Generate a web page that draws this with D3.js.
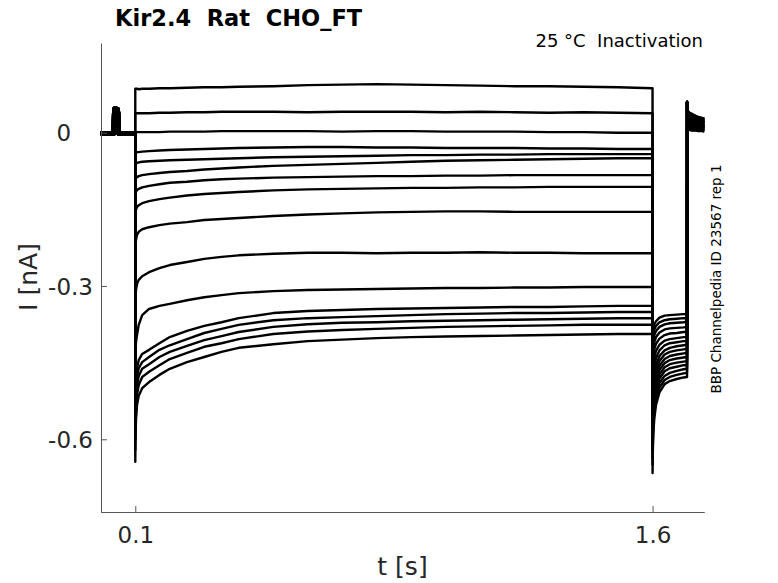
<!DOCTYPE html>
<html><head><meta charset="utf-8">
<script src="https://cdn.jsdelivr.net/npm/d3@7"></script>
<style>
body{margin:0;background:#fff}
svg{display:block}
text{font-family:"DejaVu Sans",sans-serif;white-space:pre}
</style>
</head><body>
<svg id="chart" width="778" height="583"></svg>
<script>
// ---- data (t in s, I in nA) ----
const xTicks = [0.1, 1.6];
const xTickLabels = ["0.1", "1.6"];
const yTicks = [-0.6, -0.3, 0];
const yTickLabels = ["-0.6", "-0.3", "0"];

const preTimes = [0, 0.038, 0.039, 0.0405, 0.048, 0.0495, 0.051, 0.0999];
const preCurrents = [-0.001, -0.001, 0.040, 0.047, 0.046, 0.040, -0.001, -0.001];

const stepTimes = [0.1, 0.1005, 0.102, 0.105, 0.11, 0.12, 0.14, 0.17, 0.2, 0.25, 0.3, 0.35, 0.4, 0.5, 0.6, 0.7, 0.8, 0.9, 1.0, 1.1, 1.2, 1.3, 1.4, 1.5, 1.5999];
const stepCurrents = [
  [0.086,0.086,0.086,0.086,0.085,0.086,0.086,0.087,0.087,0.088,0.089,0.089,0.090,0.091,0.093,0.094,0.095,0.094,0.093,0.092,0.091,0.091,0.090,0.089,0.087],
  [0.038,0.038,0.038,0.038,0.038,0.038,0.038,0.039,0.039,0.040,0.040,0.041,0.041,0.041,0.040,0.041,0.041,0.041,0.040,0.041,0.040,0.039,0.040,0.039,0.038],
  [0.000,0.000,0.000,0.001,0.001,0.001,0.001,0.001,0.002,0.002,0.002,0.003,0.003,0.003,0.003,0.002,0.003,0.003,0.002,0.002,0.002,0.001,0.001,0.000,0.000],
  [-0.040,-0.040,-0.039,-0.038,-0.038,-0.037,-0.036,-0.035,-0.034,-0.033,-0.032,-0.031,-0.030,-0.029,-0.028,-0.028,-0.029,-0.029,-0.030,-0.030,-0.030,-0.031,-0.031,-0.032,-0.032],
  [-0.063,-0.063,-0.061,-0.059,-0.058,-0.057,-0.056,-0.055,-0.054,-0.053,-0.052,-0.051,-0.050,-0.048,-0.047,-0.046,-0.045,-0.044,-0.044,-0.043,-0.043,-0.042,-0.042,-0.042,-0.042],
  [-0.093,-0.091,-0.089,-0.087,-0.085,-0.083,-0.081,-0.079,-0.077,-0.075,-0.072,-0.070,-0.068,-0.065,-0.063,-0.061,-0.059,-0.057,-0.055,-0.054,-0.053,-0.052,-0.051,-0.050,-0.050],
  [-0.122,-0.120,-0.116,-0.112,-0.110,-0.107,-0.104,-0.101,-0.098,-0.096,-0.093,-0.091,-0.090,-0.088,-0.087,-0.086,-0.085,-0.085,-0.084,-0.084,-0.083,-0.083,-0.083,-0.083,-0.083],
  [-0.161,-0.157,-0.151,-0.145,-0.142,-0.138,-0.134,-0.130,-0.127,-0.123,-0.120,-0.118,-0.116,-0.113,-0.111,-0.110,-0.109,-0.108,-0.108,-0.107,-0.107,-0.106,-0.106,-0.106,-0.106],
  [-0.239,-0.226,-0.210,-0.200,-0.194,-0.189,-0.185,-0.181,-0.178,-0.175,-0.171,-0.169,-0.167,-0.163,-0.160,-0.158,-0.156,-0.155,-0.154,-0.154,-0.155,-0.155,-0.155,-0.155,-0.155],
  [-0.347,-0.328,-0.308,-0.296,-0.288,-0.281,-0.273,-0.265,-0.259,-0.253,-0.247,-0.243,-0.240,-0.237,-0.235,-0.235,-0.236,-0.235,-0.235,-0.234,-0.235,-0.235,-0.236,-0.236,-0.236],
  [-0.464,-0.435,-0.410,-0.396,-0.376,-0.357,-0.345,-0.339,-0.335,-0.328,-0.322,-0.318,-0.314,-0.310,-0.308,-0.307,-0.306,-0.305,-0.304,-0.304,-0.303,-0.303,-0.302,-0.302,-0.302],
  [-0.562,-0.523,-0.484,-0.461,-0.445,-0.433,-0.425,-0.412,-0.400,-0.388,-0.378,-0.371,-0.363,-0.353,-0.349,-0.347,-0.345,-0.344,-0.343,-0.342,-0.341,-0.341,-0.340,-0.339,-0.339],
  [-0.582,-0.543,-0.504,-0.476,-0.461,-0.449,-0.439,-0.425,-0.416,-0.404,-0.392,-0.384,-0.376,-0.367,-0.363,-0.361,-0.359,-0.357,-0.355,-0.354,-0.353,-0.353,-0.352,-0.351,-0.351],
  [-0.601,-0.562,-0.523,-0.496,-0.476,-0.462,-0.453,-0.439,-0.429,-0.417,-0.406,-0.398,-0.390,-0.380,-0.375,-0.372,-0.371,-0.369,-0.368,-0.367,-0.366,-0.365,-0.364,-0.363,-0.363],
  [-0.621,-0.582,-0.543,-0.513,-0.494,-0.478,-0.468,-0.455,-0.443,-0.431,-0.419,-0.412,-0.404,-0.394,-0.389,-0.386,-0.384,-0.382,-0.380,-0.379,-0.378,-0.377,-0.376,-0.376,-0.376],
  [-0.644,-0.601,-0.562,-0.533,-0.515,-0.500,-0.488,-0.474,-0.462,-0.449,-0.439,-0.429,-0.421,-0.414,-0.408,-0.405,-0.402,-0.400,-0.399,-0.398,-0.397,-0.396,-0.395,-0.394,-0.394]
];

const tailTimes = [1.6, 1.6005, 1.602, 1.605, 1.61, 1.62, 1.635, 1.65, 1.67, 1.69, 1.6999];
const tailCurrents = [
  [-0.666,-0.630,-0.591,-0.559,-0.533,-0.508,-0.492,-0.486,-0.482,-0.479,-0.478],
  [-0.650,-0.616,-0.578,-0.548,-0.523,-0.499,-0.484,-0.478,-0.474,-0.471,-0.470],
  [-0.637,-0.604,-0.567,-0.537,-0.513,-0.490,-0.476,-0.470,-0.466,-0.463,-0.462],
  [-0.621,-0.589,-0.554,-0.526,-0.503,-0.481,-0.467,-0.461,-0.458,-0.455,-0.455],
  [-0.609,-0.578,-0.544,-0.517,-0.494,-0.473,-0.459,-0.453,-0.450,-0.448,-0.447],
  [-0.598,-0.567,-0.534,-0.507,-0.485,-0.464,-0.451,-0.445,-0.442,-0.440,-0.439],
  [-0.586,-0.556,-0.524,-0.498,-0.476,-0.456,-0.443,-0.437,-0.434,-0.432,-0.431],
  [-0.572,-0.544,-0.513,-0.487,-0.466,-0.447,-0.434,-0.429,-0.426,-0.424,-0.423],
  [-0.552,-0.526,-0.498,-0.474,-0.455,-0.437,-0.426,-0.421,-0.418,-0.416,-0.415],
  [-0.523,-0.501,-0.477,-0.457,-0.441,-0.426,-0.416,-0.412,-0.410,-0.408,-0.408],
  [-0.494,-0.476,-0.456,-0.440,-0.427,-0.415,-0.407,-0.404,-0.402,-0.400,-0.400],
  [-0.468,-0.453,-0.437,-0.424,-0.413,-0.403,-0.396,-0.393,-0.392,-0.390,-0.390],
  [-0.449,-0.436,-0.421,-0.410,-0.400,-0.391,-0.385,-0.383,-0.382,-0.381,-0.380],
  [-0.429,-0.418,-0.406,-0.396,-0.388,-0.380,-0.375,-0.373,-0.372,-0.371,-0.370],
  [-0.415,-0.406,-0.394,-0.385,-0.378,-0.371,-0.367,-0.365,-0.364,-0.363,-0.363],
  [-0.402,-0.393,-0.383,-0.375,-0.369,-0.362,-0.358,-0.357,-0.356,-0.355,-0.355]
];

const postTimes = [1.7, 1.7005, 1.702, 1.706, 1.712, 1.72, 1.73, 1.74, 1.75];
const postCurrents = [
  [0.060,0.007,0.006,0.006,0.005,0.005,0.004,0.004,0.003],
  [0.060,0.010,0.009,0.008,0.008,0.007,0.006,0.006,0.005],
  [0.060,0.013,0.012,0.011,0.010,0.009,0.008,0.008,0.007],
  [0.060,0.016,0.015,0.013,0.013,0.012,0.011,0.010,0.009],
  [0.060,0.018,0.016,0.015,0.014,0.013,0.012,0.011,0.010],
  [0.060,0.019,0.018,0.017,0.016,0.014,0.013,0.012,0.011],
  [0.060,0.022,0.021,0.019,0.018,0.017,0.015,0.014,0.013],
  [0.060,0.024,0.023,0.021,0.020,0.018,0.016,0.015,0.014],
  [0.060,0.026,0.024,0.022,0.021,0.019,0.018,0.016,0.015],
  [0.060,0.029,0.027,0.025,0.024,0.022,0.020,0.018,0.017],
  [0.060,0.032,0.030,0.028,0.026,0.024,0.022,0.021,0.019],
  [0.060,0.034,0.032,0.029,0.028,0.025,0.023,0.022,0.020],
  [0.060,0.036,0.033,0.031,0.029,0.027,0.024,0.023,0.021],
  [0.060,0.039,0.036,0.033,0.032,0.029,0.026,0.025,0.023],
  [0.060,0.042,0.039,0.036,0.034,0.031,0.029,0.027,0.025],
  [0.060,0.044,0.042,0.039,0.037,0.034,0.031,0.029,0.027]
];

const titleText = "Kir2.4  Rat  CHO_FT";
const subtitleText = "25 °C  Inactivation";
const sideText = "BBP Channelpedia ID 23567 rep 1";
const xLabel = "t [s]";
const yLabel = "I [nA]";

// ---- drawing ----
const svg = d3.select("#chart");
svg.append("rect").attr("width", 778).attr("height", 583).attr("fill", "#fff");

const x = d3.scaleLinear().domain([0, 1.75]).range([100.8, 704.3]);
const y = d3.scaleLinear().domain([-0.7423, 0.1755]).range([512, 43]);

const line = d3.line().x(d => x(d[0])).y(d => y(d[1]));

const traces = stepCurrents.map((row, k) => {
  const pts = [];
  preTimes.forEach((t, i) => pts.push([t, preCurrents[i]]));
  stepTimes.forEach((t, i) => pts.push([t, row[i]]));
  tailTimes.forEach((t, i) => pts.push([t, tailCurrents[k][i]]));
  postTimes.forEach((t, i) => pts.push([t, postCurrents[k][i]]));
  return pts;
});

const g = svg.append("g");
// holding segment band (overlapping noisy sweeps)
g.selectAll("path.pre").data(traces).join("path")
  .attr("class", "pre")
  .attr("d", d => line(d.slice(0, preTimes.length)))
  .attr("fill", "none").attr("stroke", "#000").attr("stroke-width", 4.5)
  .attr("stroke-linejoin", "round");
g.selectAll("path.post").data(traces).join("path")
  .attr("class", "post")
  .attr("d", d => line(d.slice(d.length - postTimes.length + 1)))
  .attr("fill", "none").attr("stroke", "#000").attr("stroke-width", 3)
  .attr("stroke-linejoin", "round");
g.selectAll("path.trace").data(traces).join("path")
  .attr("class", "trace")
  .attr("d", d => line(d))
  .attr("fill", "none").attr("stroke", "#000").attr("stroke-width", 2.4)
  .attr("stroke-linejoin", "round");

// axes
const axisColor = "#555";
const labelColor = "#262626";
const xAxis = svg.append("g").attr("transform", "translate(0,512)")
  .call(d3.axisBottom(x).tickValues(xTicks).tickSize(-6).tickSizeOuter(0)
    .tickFormat((d, i) => xTickLabels[i]));
xAxis.selectAll("text").attr("y", 31).attr("dy", 0)
  .attr("font-size", 23).attr("fill", labelColor)
  .attr("font-family", "DejaVu Sans, sans-serif");

const yAxis = svg.append("g").attr("transform", "translate(101,0)")
  .call(d3.axisLeft(y).tickValues(yTicks).tickSize(-6).tickSizeOuter(0)
    .tickFormat((d, i) => yTickLabels[i]));
yAxis.selectAll("text").attr("x", -8).attr("dy", "0.36em")
  .attr("font-size", 23).attr("fill", labelColor)
  .attr("font-family", "DejaVu Sans, sans-serif");
// align the lone "0" with the integer digit of the other labels
const probe = svg.append("text").attr("font-size", 23).text(".3");
const fracW = probe.node().getComputedTextLength();
probe.remove();
yAxis.selectAll(".tick").filter(d => d === 0).select("text").attr("x", -8 - fracW);

[xAxis, yAxis].forEach(a => {
  a.select(".domain").attr("stroke", axisColor).attr("stroke-width", 1);
  a.selectAll(".tick line").attr("stroke", axisColor).attr("stroke-width", 1);
});

// texts
svg.append("text").attr("x", 115).attr("y", 26)
  .attr("font-size", 22.5).attr("font-weight", "bold").attr("fill", "#000")
  .text(titleText);
svg.append("text").attr("x", 703).attr("y", 47).attr("text-anchor", "end")
  .attr("font-size", 18).attr("fill", "#000").text(subtitleText);
svg.append("text").attr("transform", "translate(721,279) rotate(-90)")
  .attr("text-anchor", "middle").attr("font-size", 13.5).attr("fill", "#000")
  .text(sideText);
svg.append("text").attr("x", 402.5).attr("y", 575).attr("text-anchor", "middle")
  .attr("font-size", 25).attr("fill", labelColor).text(xLabel);
svg.append("text").attr("transform", "translate(37,277) rotate(-90)")
  .attr("text-anchor", "middle").attr("font-size", 25).attr("fill", labelColor).text(yLabel);
</script>
</body></html>
